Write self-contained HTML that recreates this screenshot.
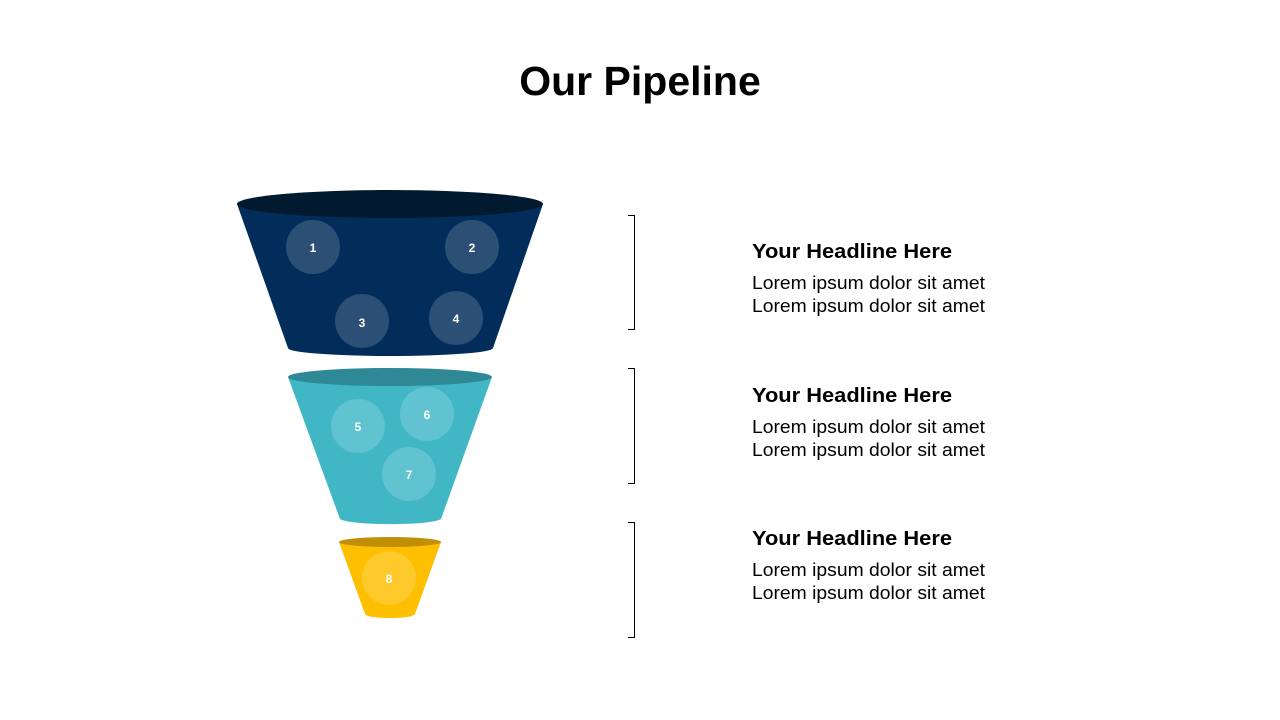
<!DOCTYPE html>
<html><head><meta charset="utf-8"><style>
html,body{margin:0;padding:0;background:#fff;}
svg{display:block;font-family:"Liberation Sans",sans-serif;}
</style></head><body>
<svg width="1280" height="720" viewBox="0 0 1280 720" xmlns="http://www.w3.org/2000/svg">
<text x="640" y="95" text-anchor="middle" font-size="41" font-weight="bold" fill="#000">Our Pipeline</text>

<path d="M237,204 L288,348 A102,8 0 0 0 493,348 L543,204 Z" fill="#022d5a"/>
<ellipse cx="390" cy="204" rx="153" ry="14" fill="#011a30"/>
<g fill="#ffffff" fill-opacity="0.17">
<circle cx="313" cy="247" r="27"/><circle cx="472" cy="247" r="27"/>
<circle cx="362" cy="321" r="27"/><circle cx="456" cy="318" r="27"/>
</g>
<g fill="#fff" font-size="12" font-weight="bold" text-anchor="middle">
<text x="313" y="252">1</text><text x="472" y="252">2</text>
<text x="362" y="327">3</text><text x="456" y="323">4</text>
</g>

<path d="M288,377 L340,519 A51,6 0 0 0 441,519 L492,377 Z" fill="#41b7c6"/>
<ellipse cx="390" cy="377" rx="102" ry="9" fill="#2f8896"/>
<g fill="#ffffff" fill-opacity="0.17">
<circle cx="358" cy="426" r="27"/><circle cx="427" cy="414" r="27"/>
<circle cx="409" cy="474" r="27"/>
</g>
<g fill="#fff" font-size="12" font-weight="bold" text-anchor="middle">
<text x="358" y="431">5</text><text x="427" y="419">6</text><text x="409" y="479">7</text>
</g>

<path d="M339,542 L365,614 A25,4 0 0 0 415,614 L441,542 Z" fill="#fdbf00"/>
<ellipse cx="390" cy="542" rx="51" ry="5" fill="#c08f06"/>
<circle cx="389" cy="578" r="27" fill="#fff" fill-opacity="0.17"/>
<text x="389" y="583" fill="#fff" font-size="12" font-weight="bold" text-anchor="middle">8</text>

<g fill="none" stroke="#000" stroke-width="1">
<path d="M628,215.5 H634.5 V329.5 H628"/>
<path d="M628,368.5 H634.5 V483.5 H628"/>
<path d="M628,522.5 H634.5 V637.5 H628"/>
</g>

<g font-size="20" font-weight="bold" fill="#000">
<text x="752" y="258" textLength="200" lengthAdjust="spacingAndGlyphs">Your Headline Here</text>
<text x="752" y="402" textLength="200" lengthAdjust="spacingAndGlyphs">Your Headline Here</text>
<text x="752" y="545" textLength="200" lengthAdjust="spacingAndGlyphs">Your Headline Here</text>
</g>
<g font-size="18" fill="#000">
<text x="752" y="289" textLength="233" lengthAdjust="spacingAndGlyphs">Lorem ipsum dolor sit amet</text>
<text x="752" y="312" textLength="233" lengthAdjust="spacingAndGlyphs">Lorem ipsum dolor sit amet</text>
<text x="752" y="433" textLength="233" lengthAdjust="spacingAndGlyphs">Lorem ipsum dolor sit amet</text>
<text x="752" y="456" textLength="233" lengthAdjust="spacingAndGlyphs">Lorem ipsum dolor sit amet</text>
<text x="752" y="576" textLength="233" lengthAdjust="spacingAndGlyphs">Lorem ipsum dolor sit amet</text>
<text x="752" y="599" textLength="233" lengthAdjust="spacingAndGlyphs">Lorem ipsum dolor sit amet</text>
</g>
</svg>
</body></html>
